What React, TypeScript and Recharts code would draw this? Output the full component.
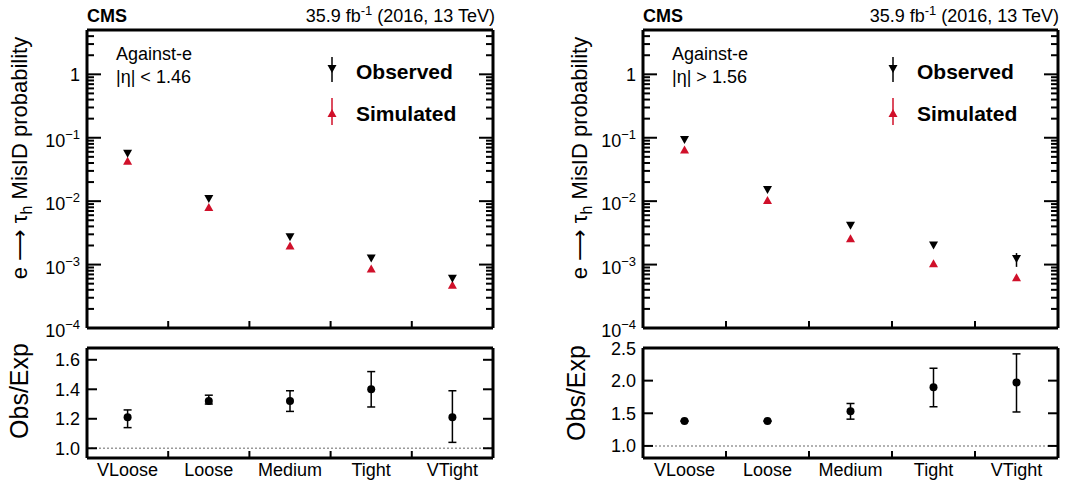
import React from 'react';
import { ScatterChart, Scatter, XAxis, YAxis, ErrorBar, ReferenceLine, Legend } from 'recharts';

const categories = ['VLoose', 'Loose', 'Medium', 'Tight', 'VTight'];

// |eta| < 1.46
const obsBarrel = [0.056, 0.0108, 0.0027, 0.00125, 0.0006];
const obsBarrelErr = [0.002, 0.0004, 0.0001, 0.00005, 0.00003];
const simBarrel = [0.0435, 0.0081, 0.002, 0.00087, 0.00048];
const simBarrelErr = [0.001, 0.0002, 0.00005, 0.00003, 0.00002];
const ratioBarrel = [1.21, 1.32, 1.32, 1.4, 1.21];
const ratioBarrelLo = [0.07, 0.02, 0.07, 0.12, 0.17];
const ratioBarrelHi = [0.05, 0.04, 0.07, 0.12, 0.18];

// |eta| > 1.56
const obsEndcap = [0.092, 0.015, 0.0041, 0.002, 0.00122];
const obsEndcapErr = [0.003, 0.0005, 0.00012, 0.00006, 0.0003];
const simEndcap = [0.065, 0.0104, 0.0026, 0.00105, 0.00063];
const simEndcapErr = [0.001, 0.0002, 0.00006, 0.00003, 0.00003];
const ratioEndcap = [1.38, 1.38, 1.53, 1.9, 1.97];
const ratioEndcapLo = [0, 0, 0.12, 0.3, 0.45];
const ratioEndcapHi = [0, 0, 0.12, 0.29, 0.44];

const logMajor = [1e-4, 1e-3, 1e-2, 1e-1, 1];
const logMinorMult = [2, 3, 4, 5, 6, 7, 8, 9];
const logTicks = [
  ...logMajor,
  ...logMajor.flatMap((d) => logMinorMult.map((m) => m * d)).filter((v) => v <= 5),
];
const xTicks = [0.5, 1, 1.5, 2, 2.5, 3, 3.5, 4, 4.5];
const ratioTicksBarrel = [1.0, 1.2, 1.4, 1.6];
const ratioTicksEndcap = [1.0, 1.5, 2.0, 2.5];
const expLabels: Record<number, string> = { 1e-4: '−4', 1e-3: '−3', 1e-2: '−2', 1e-1: '−1' };

const FONT = "'Liberation Sans', Arial, Helvetica, sans-serif";
const RED = '#d0102a';
const TICK_W = 2;

const rows = (vals: number[], errs: number[]) =>
  vals.map((v, i) => ({ x: i + 0.5, cat: categories[i], y: v, err: errs[i] }));
const ratioRows = (vals: number[], lo: number[], hi: number[]) =>
  vals.map((v, i) => ({ x: i + 0.5, cat: categories[i], y: v, err: [lo[i], hi[i]] }));

const DownTri = ({ cx, cy, fill = '#000' }: any) => (
  <polygon points={`${cx - 4.5},${cy - 4} ${cx + 4.5},${cy - 4} ${cx},${cy + 4}`} fill={fill} />
);
const UpTri = ({ cx, cy, fill = RED }: any) => (
  <polygon points={`${cx - 4.5},${cy + 4} ${cx + 4.5},${cy + 4} ${cx},${cy - 4}`} fill={fill} />
);
const Dot = ({ cx, cy }: any) => <circle cx={cx} cy={cy} r={4} fill="#000" />;

const LogTickLeft = ({ x, y, payload }: any) => {
  const v = payload.value;
  const major = logMajor.includes(v);
  return (
    <g>
      <line x1={x} y1={y} x2={x + (major ? 14 : 7)} y2={y} stroke="#000" strokeWidth={TICK_W} />
      {major && v === 1 && (
        <text x={x - 7} y={y + 7} textAnchor="end" fontSize={18} fontFamily={FONT} fill="#000">1</text>
      )}
      {major && v !== 1 && (
        <text x={x - 7} y={y + 9} textAnchor="end" fontSize={18} fontFamily={FONT} fill="#000">
          10<tspan fontSize={13} dy={-8}>{expLabels[v]}</tspan>
        </text>
      )}
    </g>
  );
};
const LogTickRight = ({ x, y, payload }: any) => {
  const major = logMajor.includes(payload.value);
  return <line x1={x} y1={y} x2={x - (major ? 14 : 7)} y2={y} stroke="#000" strokeWidth={TICK_W} />;
};
const LinTickLeft = ({ x, y, payload }: any) => (
  <g>
    <line x1={x} y1={y} x2={x + 10} y2={y} stroke="#000" strokeWidth={TICK_W} />
    <text x={x - 7} y={y + 6.5} textAnchor="end" fontSize={18} fontFamily={FONT} fill="#000">
      {payload.value.toFixed(1)}
    </text>
  </g>
);
const LinTickRight = ({ x, y }: any) => (
  <line x1={x} y1={y} x2={x - 10} y2={y} stroke="#000" strokeWidth={TICK_W} />
);
const XTickBottom = ({ x, y, payload, labels }: any) => {
  const v = payload.value;
  if (Number.isInteger(v)) return <line x1={x} y1={y} x2={x} y2={y - 7} stroke="#000" strokeWidth={TICK_W} />;
  if (!labels) return <g />;
  return (
    <text x={x} y={y + 18} textAnchor="middle" fontSize={18} fontFamily={FONT} fill="#000">
      {categories[Math.floor(v)]}
    </text>
  );
};
const XTickTop = ({ x, y, payload }: any) =>
  Number.isInteger(payload.value) ? (
    <line x1={x} y1={y} x2={x} y2={y + 7} stroke="#000" strokeWidth={TICK_W} />
  ) : (
    <g />
  );

const frame = { stroke: '#000', strokeWidth: 3 };

const LegendBox = () => (
  <svg width={200} height={80} style={{ display: 'block' }}>
    <line x1={10} y1={7} x2={10} y2={32} stroke="#000" strokeWidth={1.5} />
    <DownTri cx={10} cy={19} />
    <text x={34} y={29} fontSize={21} fontWeight="bold" fontFamily={FONT} fill="#000">Observed</text>
    <line x1={10} y1={48} x2={10} y2={75} stroke={RED} strokeWidth={1.5} />
    <UpTri cx={10} cy={63} />
    <text x={34} y={71} fontSize={21} fontWeight="bold" fontFamily={FONT} fill="#000">Simulated</text>
  </svg>
);

// axes get a 1px box (a zero-sized axis is not drawn), so margins are 1px smaller
const TopPanel = ({ obs, obsErr, sim, simErr, width, left, right, legendLeft }: any) => (
  <ScatterChart width={width} height={340} margin={{ top: 29, left: left - 1, right: right - 1, bottom: 11 }}>
    <XAxis xAxisId="b" dataKey="x" type="number" domain={[0, 5]} ticks={xTicks} interval={0}
      height={1} tickSize={0} tickMargin={0} axisLine={frame} tickLine={false} tick={<XTickBottom />} />
    <XAxis xAxisId="t" orientation="top" type="number" domain={[0, 5]} ticks={xTicks} interval={0}
      height={1} tickSize={0} tickMargin={0} axisLine={frame} tickLine={false} tick={<XTickTop />} />
    <YAxis yAxisId="l" dataKey="y" scale="log" type="number" domain={[1e-4, 5]} allowDataOverflow
      ticks={logTicks} interval={0} width={1} tickSize={0} tickMargin={0} axisLine={frame}
      tickLine={false} tick={<LogTickLeft />} />
    <YAxis yAxisId="r" orientation="right" scale="log" type="number" domain={[1e-4, 5]} allowDataOverflow
      ticks={logTicks} interval={0} width={1} tickSize={0} tickMargin={0} axisLine={frame}
      tickLine={false} tick={<LogTickRight />} />
    <Legend layout="vertical" align="center" verticalAlign="middle" content={<LegendBox />}
      wrapperStyle={{ left: legendLeft, top: 50, width: 200, height: 80 }} />
    <Scatter name="Simulated" xAxisId="b" yAxisId="l" data={rows(sim, simErr)} fill={RED}
      shape={<UpTri />} isAnimationActive={false}>
      <ErrorBar dataKey="err" direction="y" width={0} stroke={RED} strokeWidth={1.5} isAnimationActive={false} />
    </Scatter>
    <Scatter name="Observed" xAxisId="b" yAxisId="l" data={rows(obs, obsErr)} fill="#000"
      shape={<DownTri />} isAnimationActive={false}>
      <ErrorBar dataKey="err" direction="y" width={0} stroke="#000" strokeWidth={1.5} isAnimationActive={false} />
    </Scatter>
  </ScatterChart>
);

const RatioPanel = ({ data, domain, ticks, width, left, right }: any) => (
  <ScatterChart width={width} height={151} margin={{ top: 17, left: left - 1, right: right - 1, bottom: 22 }}>
    <XAxis xAxisId="b" dataKey="x" type="number" domain={[0, 5]} ticks={xTicks} interval={0}
      height={1} tickSize={0} tickMargin={0} axisLine={frame} tickLine={false} tick={<XTickBottom labels />} />
    <XAxis xAxisId="t" orientation="top" type="number" domain={[0, 5]} ticks={xTicks} interval={0}
      height={1} tickSize={0} tickMargin={0} axisLine={frame} tickLine={false} tick={<XTickTop />} />
    <YAxis yAxisId="l" dataKey="y" type="number" domain={domain} allowDataOverflow ticks={ticks}
      interval={0} width={1} tickSize={0} tickMargin={0} axisLine={frame} tickLine={false} tick={<LinTickLeft />} />
    <YAxis yAxisId="r" orientation="right" type="number" domain={domain} allowDataOverflow ticks={ticks}
      interval={0} width={1} tickSize={0} tickMargin={0} axisLine={frame} tickLine={false} tick={<LinTickRight />} />
    <ReferenceLine xAxisId="b" yAxisId="l" y={1} stroke="#999" strokeWidth={1.5} strokeDasharray="2 2" />
    <Scatter name="Obs/Exp" xAxisId="b" yAxisId="l" data={data} fill="#000" shape={<Dot />} isAnimationActive={false}>
      <ErrorBar dataKey="err" direction="y" width={4} stroke="#000" strokeWidth={1.5} isAnimationActive={false} />
    </Scatter>
  </ScatterChart>
);

const txt = { fontFamily: FONT, fill: '#000' };

const PanelText = ({ x0, x1, eta, titleX, ratioX, ratioY }: any) => (
  <g>
    <text x={x0} y={22} fontSize={18} fontWeight="bold" {...txt}>CMS</text>
    <text x={x1} y={22} fontSize={18} textAnchor="end" {...txt}>
      35.9 fb<tspan fontSize={13} dy={-7}>-1</tspan><tspan dy={7}> (2016, 13 TeV)</tspan>
    </text>
    <text x={x0 + 29} y={60} fontSize={18} {...txt}>Against-e</text>
    <text x={x0 + 29} y={83} fontSize={18} {...txt}>{eta}</text>
    <text transform={`translate(${titleX},158) rotate(-90)`} textAnchor="middle" fontSize={22} {...txt}>
      e <tspan fontFamily="'DejaVu Sans'">⟶</tspan> τ<tspan fontSize={16} dy={5}>h</tspan>
      <tspan dy={-5}> MisID probability</tspan>
    </text>
    <text transform={`translate(${ratioX},${ratioY}) rotate(-90)`} textAnchor="middle" fontSize={25} {...txt}>
      Obs/Exp
    </text>
  </g>
);

export default function App() {
  return (
    <div style={{ position: 'absolute', left: 0, top: 0, width: 1072, height: 481, background: '#fff' }}>
      <div style={{ position: 'absolute', left: 0, top: 0 }}>
        <TopPanel obs={obsBarrel} obsErr={obsBarrelErr} sim={simBarrel} simErr={simBarrelErr}
          width={540} left={87} right={47} legendLeft={322} />
      </div>
      <div style={{ position: 'absolute', left: 540, top: 0 }}>
        <TopPanel obs={obsEndcap} obsErr={obsEndcapErr} sim={simEndcap} simErr={simEndcapErr}
          width={532} left={103} right={14} legendLeft={343} />
      </div>
      <div style={{ position: 'absolute', left: 0, top: 330 }}>
        <RatioPanel data={ratioRows(ratioBarrel, ratioBarrelLo, ratioBarrelHi)} domain={[0.934, 1.68]}
          ticks={ratioTicksBarrel} width={540} left={87} right={47} />
      </div>
      <div style={{ position: 'absolute', left: 540, top: 330 }}>
        <RatioPanel data={ratioRows(ratioEndcap, ratioEndcapLo, ratioEndcapHi)} domain={[0.815, 2.5]}
          ticks={ratioTicksEndcap} width={532} left={103} right={14} />
      </div>
      <svg width={1072} height={481} style={{ position: 'absolute', left: 0, top: 0, pointerEvents: 'none' }}>
        <PanelText x0={87} x1={495} eta="|η| < 1.46" titleX={27} ratioX={28} ratioY={391} />
        <PanelText x0={643} x1={1059} eta="|η| > 1.56" titleX={587} ratioX={585} ratioY={393} />
      </svg>
    </div>
  );
}
